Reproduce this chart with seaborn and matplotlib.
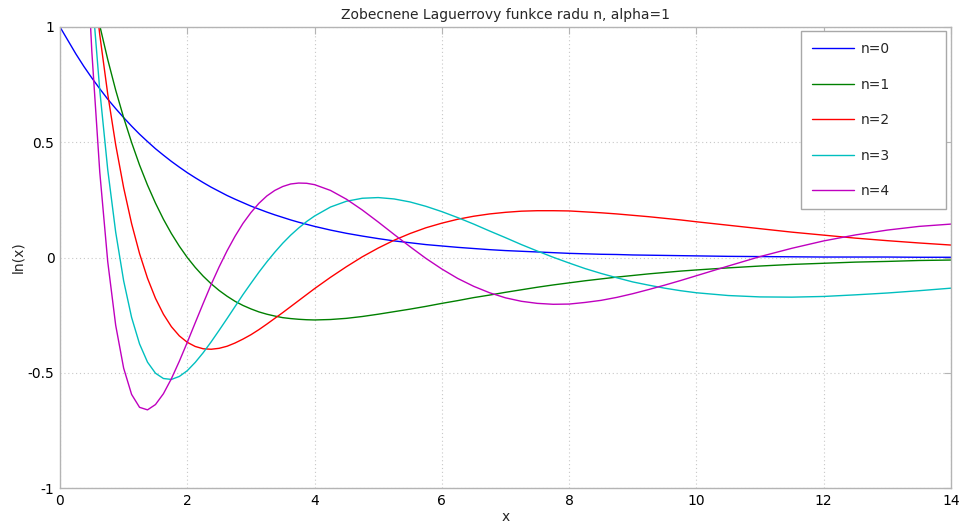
import matplotlib
matplotlib.use("Agg")
import matplotlib.pyplot as plt
import numpy as np
import pandas as pd
import seaborn as sns

# Sample positions along x (denser where the curves bend sharply)
x = [0.0, 0.25, 0.375, 0.5, 0.625, 0.75, 0.875, 1.0, 1.125, 1.25, 1.375,
     1.5, 1.625, 1.75, 1.875, 2.0, 2.125, 2.25, 2.375, 2.5, 2.625, 2.75,
     2.875, 3.0, 3.125, 3.25, 3.375, 3.5, 3.625, 3.75, 3.875, 4.0,
     4.25, 4.5, 4.75, 5.0, 5.25, 5.5, 5.75, 6.0,
     6.25, 6.5, 6.75, 7.0, 7.25, 7.5, 7.75, 8.0, 8.25, 8.5, 8.75, 9.0,
     9.25, 9.5, 9.75, 10.0,
     10.5, 11.0, 11.5, 12.0, 12.5, 13.0, 13.5, 14.0]

# Generalized Laguerre functions, alpha = 1
n0 = [1.000, 0.883, 0.829, 0.779, 0.732, 0.687, 0.646, 0.607, 0.570, 0.535,
      0.503, 0.472, 0.444, 0.417, 0.392, 0.368, 0.346, 0.325, 0.305, 0.287,
      0.269, 0.253, 0.238, 0.223, 0.210, 0.197, 0.185, 0.174, 0.163, 0.153,
      0.144, 0.135,
      0.119, 0.105, 0.093, 0.082, 0.072, 0.064, 0.056, 0.050,
      0.044, 0.039, 0.034, 0.030, 0.027, 0.024, 0.021, 0.018, 0.016, 0.014,
      0.013, 0.011, 0.010, 0.009, 0.008, 0.007,
      0.005, 0.004, 0.003, 0.002, 0.002, 0.002, 0.001, 0.001]
n1 = [2.000, 1.544, 1.347, 1.168, 1.006, 0.859, 0.726, 0.607, 0.499, 0.401,
      0.314, 0.236, 0.166, 0.104, 0.049, 0.000, -0.043, -0.081, -0.114,
      -0.143, -0.168, -0.190, -0.208, -0.223, -0.236, -0.246, -0.254, -0.261,
      -0.265, -0.268, -0.270, -0.271,
      -0.269, -0.264, -0.256, -0.246, -0.235, -0.224, -0.212, -0.199,
      -0.187, -0.174, -0.163, -0.151, -0.140, -0.129, -0.119, -0.110, -0.101,
      -0.093, -0.085, -0.078, -0.071, -0.065, -0.059, -0.054,
      -0.045, -0.037, -0.030, -0.025, -0.020, -0.017, -0.013, -0.011]
n2 = [3.000, 2.013, 1.613, 1.266, 0.966, 0.709, 0.489, 0.303, 0.147, 0.017,
      -0.090, -0.177, -0.246, -0.300, -0.340, -0.368, -0.386, -0.396, -0.398,
      -0.394, -0.385, -0.371, -0.354, -0.335, -0.313, -0.289, -0.264, -0.239,
      -0.213, -0.187, -0.161, -0.135,
      -0.086, -0.040, 0.003, 0.041, 0.075, 0.104, 0.129, 0.149,
      0.166, 0.179, 0.189, 0.196, 0.201, 0.203, 0.203, 0.202, 0.198, 0.194,
      0.189, 0.183, 0.177, 0.170, 0.163, 0.155,
      0.140, 0.125, 0.110, 0.097, 0.084, 0.073, 0.063, 0.054]
n3 = [4.000, 2.314, 1.677, 1.152, 0.725, 0.381, 0.110, -0.101, -0.260,
      -0.375, -0.454, -0.502, -0.525, -0.529, -0.516, -0.491, -0.455, -0.413,
      -0.366, -0.316, -0.265, -0.213, -0.161, -0.112, -0.064, -0.019, 0.023,
      0.062, 0.097, 0.128, 0.156, 0.180,
      0.219, 0.244, 0.257, 0.260, 0.254, 0.241, 0.222, 0.199,
      0.173, 0.145, 0.115, 0.086, 0.056, 0.028, 0.001, -0.024, -0.048, -0.069,
      -0.088, -0.106, -0.120, -0.133, -0.144, -0.153,
      -0.165, -0.171, -0.172, -0.169, -0.162, -0.154, -0.144, -0.133]
n4 = [5.000, 2.471, 1.583, 0.894, 0.370, -0.018, -0.294, -0.480, -0.594,
      -0.650, -0.661, -0.638, -0.591, -0.526, -0.450, -0.368, -0.283, -0.199,
      -0.117, -0.041, 0.029, 0.092, 0.148, 0.195, 0.235, 0.267, 0.291, 0.308,
      0.319, 0.323, 0.322, 0.316,
      0.291, 0.253, 0.206, 0.154, 0.100, 0.047, -0.004, -0.050,
      -0.091, -0.125, -0.153, -0.175, -0.190, -0.199, -0.203, -0.202, -0.195,
      -0.186, -0.173, -0.157, -0.139, -0.120, -0.100, -0.079,
      -0.037, 0.004, 0.040, 0.072, 0.098, 0.119, 0.135, 0.145]

labels = ["n=0", "n=1", "n=2", "n=3", "n=4"]
colors = ["#0000ff", "#008000", "#ff0000", "#00bfbf", "#bf00bf"]
x_ticks = [0, 2, 4, 6, 8, 10, 12, 14]
y_ticks = [-1, -0.5, 0, 0.5, 1]
y_tick_labels = ["-1", "-0.5", "0", "0.5", "1"]

series = [n0, n1, n2, n3, n4]
df = pd.DataFrame({
    "x": x * len(series),
    "y": [v for s in series for v in s],
    "n": [lab for lab in labels for _ in x],
})

sns.set_style("white")
plt.rcParams["font.family"] = ["DejaVu Sans"]
plt.rcParams["font.size"] = 10

W, H = 964, 529
fig = plt.figure(figsize=(W / 100, H / 100), dpi=100)
ax = fig.add_axes([60 / W, 1 - 488 / H, (951 - 60) / W, (488 - 27) / H])

sns.lineplot(data=df, x="x", y="y", hue="n", hue_order=labels,
             palette=dict(zip(labels, colors)), estimator=None,
             linewidth=1.0, legend=False, ax=ax)

ax.set_xlim(0, 14)
ax.set_ylim(-1, 1)
ax.set_xticks(x_ticks)
ax.set_xticklabels([str(t) for t in x_ticks])
ax.set_yticks(y_ticks)
ax.set_yticklabels(y_tick_labels)

edge = "#b4b4b4"
for sp in ax.spines.values():
    sp.set_visible(True)
    sp.set_color(edge)
    sp.set_linewidth(1.0)
ax.tick_params(direction="in", length=5, width=0.8, color=edge,
               top=True, right=True, labelsize=10, labelcolor="black", pad=4)
ax.grid(True, linestyle=(0, (1, 2.5)), color="#c8c8c8", linewidth=0.8)

ax.set_title("Zobecnene Laguerrovy funkce radu n, alpha=1", fontsize=10, pad=6)
ax.set_xlabel("x", fontsize=10, labelpad=2)
ax.set_ylabel("ln(x)", fontsize=10, labelpad=2)

handles = ax.get_lines()[:len(labels)]
leg = ax.legend(handles, labels, loc="upper left",
                bbox_to_anchor=(801 / W, 1 - 31 / H, (946 - 801) / W, 0),
                bbox_transform=fig.transFigure, mode="expand",
                frameon=True, fancybox=False, framealpha=1,
                edgecolor="#a8a8a8", fontsize=10, handlelength=3.0,
                handletextpad=0.5, labelspacing=1.55, borderpad=0.8,
                borderaxespad=0)
leg.get_frame().set_linewidth(1.0)

fig.savefig("out.png", dpi=100)
